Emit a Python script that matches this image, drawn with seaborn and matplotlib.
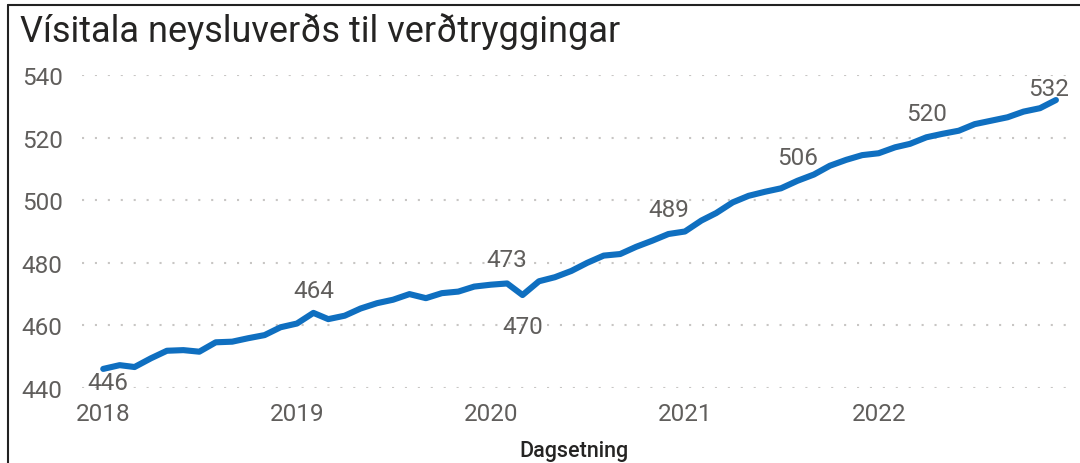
import matplotlib
matplotlib.use("Agg")
import matplotlib.pyplot as plt
import matplotlib.dates as mdates
from matplotlib.lines import Line2D
import pandas as pd
import seaborn as sns

# ---- data ----
start_month = "2018-01-01"
cpi_2018 = [446.1, 447.3, 446.7, 449.5, 451.9, 452.1, 451.6, 454.6, 454.8, 455.9, 456.9, 459.4]
cpi_2019 = [460.6, 464.0, 462.0, 463.1, 465.4, 467.1, 468.2, 470.0, 468.7, 470.3, 470.8, 472.4]
cpi_2020 = [473.0, 473.4, 469.7, 474.1, 475.4, 477.4, 480.0, 482.3, 482.8, 485.1, 487.1, 489.2]
cpi_2021 = [490.0, 493.5, 495.9, 499.3, 501.4, 502.7, 503.8, 506.2, 508.2, 511.0, 512.9, 514.4]
cpi_2022 = [515.0, 516.9, 518.0, 520.1, 521.2, 522.2, 524.3, 525.4, 526.5, 528.3, 529.4, 532.0]
labelled_months = [0, 13, 25, 26, 35, 43, 51, 59]
y_ticks = [440, 460, 480, 500, 520, 540]
x_tick_years = [2018, 2019, 2020, 2021, 2022]
title = "Vísitala neysluverðs til verðtryggingar"
x_label = "Dagsetning"

values = cpi_2018 + cpi_2019 + cpi_2020 + cpi_2021 + cpi_2022
df = pd.DataFrame({
    "Dagsetning": pd.date_range(start_month, periods=len(values), freq="MS"),
    "Vísitala": values,
})

# ---- style ----
sns.set_theme(style="white")
plt.rcParams["font.family"] = ["Roboto", "DejaVu Sans"]

TEXT_GREY = "#605E5C"
DARK = "#252423"
LINE_BLUE = "#0F6FC0"

fig = plt.figure(figsize=(10.8, 4.64), dpi=100)
ax = fig.add_axes([82 / 1080, 1 - 389 / 464, (1066 - 82) / 1080, (389 - 76) / 464])

sns.lineplot(data=df, x="Dagsetning", y="Vísitala", ax=ax, color=LINE_BLUE,
             linewidth=4.4, solid_capstyle="round", solid_joinstyle="round", clip_on=False)

ax.set_ylim(440, 540)
ax.set_yticks(y_ticks)
ax.set_xlim(df["Dagsetning"].iloc[0] - pd.Timedelta(days=40),
            df["Dagsetning"].iloc[-1] + pd.Timedelta(days=19))
ax.set_xticks([pd.Timestamp(f"{y}-01-01") for y in x_tick_years])
ax.xaxis.set_major_formatter(mdates.DateFormatter("%Y"))

for s in ax.spines.values():
    s.set_visible(False)
ax.grid(axis="y", color="#C8C6C4", linewidth=1.5, linestyle=(0, (1, 5.2)))
ax.grid(axis="x", visible=False)
ax.tick_params(axis="both", length=0, labelsize=17.5, labelcolor=TEXT_GREY)
ax.tick_params(axis="y", pad=14)
ax.tick_params(axis="x", pad=10)
ax.set_ylabel("")
ax.set_xlabel(x_label, fontsize=15.5, color=DARK, fontweight="medium", labelpad=11)

# data labels
offsets = {0: (3.6, -9.7), 13: (0, 15.8), 25: (0, 17.3), 26: (0, -22.3),
           35: (0, 17.6), 43: (0, 16.6), 51: (0, 17.3), 59: (-5, 8.6)}
for i in labelled_months:
    d = df["Dagsetning"].iloc[i]
    v = df["Vísitala"].iloc[i]
    ax.annotate(f"{v:.0f}", xy=(d, v), xytext=offsets[i], textcoords="offset points",
                ha="center", va="center", fontsize=17.5, color=TEXT_GREY,
                annotation_clip=False)

fig.text(20 / 1080, 1 - 42 / 464, title, fontsize=26, color=DARK, ha="left", va="baseline")

# frame (left and top edges of the visual)
fig.add_artist(Line2D([8 / 1080, 8 / 1080], [0, 1 - 6 / 464], transform=fig.transFigure,
                      color="#222222", linewidth=1.5))
fig.add_artist(Line2D([8 / 1080, 1], [1 - 6 / 464, 1 - 6 / 464], transform=fig.transFigure,
                      color="#222222", linewidth=1.5))

fig.savefig("out.png", dpi=100, facecolor="white")
